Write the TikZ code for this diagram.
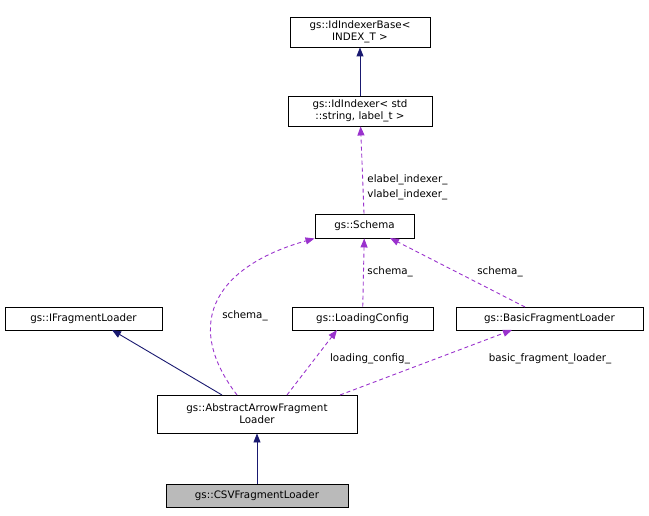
\documentclass[tikz,border=0pt]{standalone}
\usepackage{fontspec}
\setmainfont{DejaVu Sans}
\usetikzlibrary{arrows.meta}
\definecolor{navy}{HTML}{191970}
\definecolor{purp}{HTML}{9A32CD}
\begin{document}
\begin{tikzpicture}[x=1pt,y=-1pt,line width=0.9pt,
  box/.style={draw,inner sep=0pt,font=\fontsize{10.3}{12}\selectfont,align=center},
  inh/.style={draw=navy,-{Triangle[width=7pt,length=9pt,fill=navy]}},
  use/.style={draw=purp,dash pattern=on 4pt off 3pt,-{Triangle[width=7pt,length=9pt,fill=purp]}},
  lbl/.style={font=\fontsize{10.3}{12}\selectfont,inner sep=1pt}]
\useasboundingbox (0,0) rectangle (649,516);
\node[box,minimum width=140pt,minimum height=30pt] (base) at (360,32) {gs::IdIndexerBase<\\INDEX\_T >};
\node[box,minimum width=144pt,minimum height=30pt] (idx) at (360,111) {gs::IdIndexer< std\\::string, label\_t >};
\node[box,minimum width=99pt,minimum height=24pt] (sch) at (364.5,226) {gs::Schema};
\node[box,minimum width=157pt,minimum height=23pt] (ifl) at (83.5,318.5) {gs::IFragmentLoader};
\node[box,minimum width=141pt,minimum height=23pt] (lc) at (362.5,318.5) {gs::LoadingConfig};
\node[box,minimum width=187pt,minimum height=23pt] (bfl) at (549.5,318.5) {gs::BasicFragmentLoader};
\node[box,minimum width=200pt,minimum height=38pt] (aafl) at (257,414) {gs::AbstractArrowFragment\\Loader};
\node[box,fill=black!27,minimum width=182pt,minimum height=23pt] (csv) at (257,495.5) {gs::CSVFragmentLoader};
\draw[inh] (idx) -- (base);
\draw[use] (sch) -- (idx);
\node[lbl,anchor=west] at (366,180) {elabel\_indexer\_};
\node[lbl,anchor=west] at (366,195) {vlabel\_indexer\_};
\draw[use] (237,395) .. controls (180,320) and (220,265) .. (sch.south west);
\node[lbl] at (245,316) {schema\_};
\draw[use] (lc) -- (sch);
\node[lbl,anchor=west] at (366,272) {schema\_};
\draw[use] (525,307) -- (390,238);
\node[lbl] at (500,272) {schema\_};
\draw[inh] (222,395) -- (112,330);
\draw[use] (287,395) -- (337,330);
\node[lbl] at (370,359) {loading\_config\_};
\draw[use] (340,395) -- (512,330);
\node[lbl] at (550,359) {basic\_fragment\_loader\_};
\draw[inh] (csv) -- (aafl);
\end{tikzpicture}
\end{document}
